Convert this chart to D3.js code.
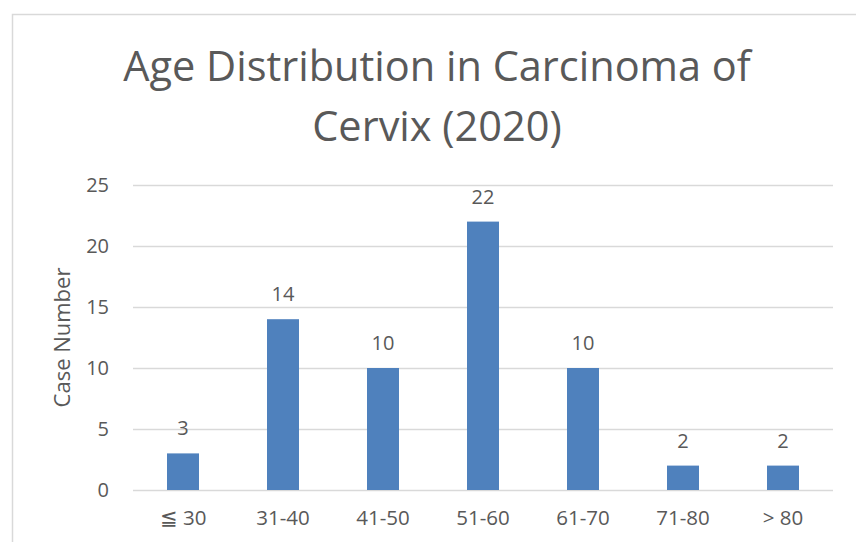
<!DOCTYPE html>
<html lang="en">
<head>
<meta charset="utf-8" />
<title>Age Distribution in Carcinoma of Cervix (2020)</title>
<script src="https://cdn.jsdelivr.net/npm/d3@7"></script>
<style>
  body { margin: 0; background: #fff; }
  text { font-family: "Open Sans", "Noto Sans", sans-serif; fill: #595959; }
</style>
</head>
<body>
<div id="chart"></div>
<script>
  // data
  let categories = ['\u2266 30', '31-40', '41-50', '51-60', '61-70', '71-80', '> 80'];
  let cases = [3, 14, 10, 22, 10, 2, 2];
  let yTicks = [0, 5, 10, 15, 20, 25];
  let titleLines = ['Age Distribution in Carcinoma of', 'Cervix (2020)'];

  let W = 856, H = 542;
  let margin = { top: 185, bottom: 52, left: 133, right: 23 };
  let width = W - margin.left - margin.right,
      height = H - margin.top - margin.bottom;

  let svg = d3.select('#chart')
      .append('svg')
      .attr('width', W)
      .attr('height', H);

  // chart frame
  svg.append('rect')
      .attr('x', 12.5).attr('y', 14.5)
      .attr('width', W).attr('height', H)
      .attr('fill', 'none')
      .attr('stroke', '#d9d9d9')
      .attr('stroke-width', 1.5);

  // title
  svg.append('text')
      .attr('text-anchor', 'middle')
      .style('font-size', '41.5px')
      .selectAll('tspan')
      .data(titleLines)
      .enter().append('tspan')
      .attr('x', 437)
      .attr('y', (d, i) => 81 + i * 60)
      .text(d => d);

  let x = d3.scaleBand()
      .domain(categories)
      .range([0, width])
      .paddingInner(0.68)
      .paddingOuter(0.34);

  let y = d3.scaleLinear()
      .domain([0, 25])
      .range([height, 0]);

  let g = svg.append('g')
      .attr('transform', 'translate(' + margin.left + ',' + margin.top + ')');

  // gridlines + y labels
  let yAxis = d3.axisLeft(y)
      .tickValues(yTicks)
      .tickSize(-width)
      .tickPadding(24);

  let gy = g.append('g').call(yAxis);
  gy.select('.domain').remove();
  gy.selectAll('line').attr('stroke', '#d9d9d9').attr('stroke-width', 1.5);
  gy.selectAll('text')
      .style('font-size', '20px')
      .attr('fill', '#595959');

  // x labels
  let xAxis = d3.axisBottom(x).tickSize(0).tickPadding(20);
  let gx = g.append('g')
      .attr('transform', 'translate(0,' + height + ')')
      .call(xAxis);
  gx.select('.domain').remove();
  gx.selectAll('text')
      .style('font-size', '20.5px')
      .attr('fill', '#595959');

  // bars
  g.selectAll('.bar')
      .data(cases)
      .enter().append('rect')
      .attr('class', 'bar')
      .attr('x', (d, i) => x(categories[i]))
      .attr('y', d => y(d))
      .attr('width', x.bandwidth())
      .attr('height', d => height - y(d))
      .attr('fill', '#4f81bd');

  // value labels
  g.selectAll('.val')
      .data(cases)
      .enter().append('text')
      .attr('class', 'val')
      .attr('text-anchor', 'middle')
      .style('font-size', '20px')
      .attr('x', (d, i) => x(categories[i]) + x.bandwidth() / 2)
      .attr('y', d => y(d) - 18)
      .text(d => d);

  // y title
  svg.append('text')
      .attr('transform', 'translate(70,' + (margin.top + height / 2) + ') rotate(-90)')
      .attr('text-anchor', 'middle')
      .style('font-size', '22px')
      .text('Case Number');
</script>
</body>
</html>
